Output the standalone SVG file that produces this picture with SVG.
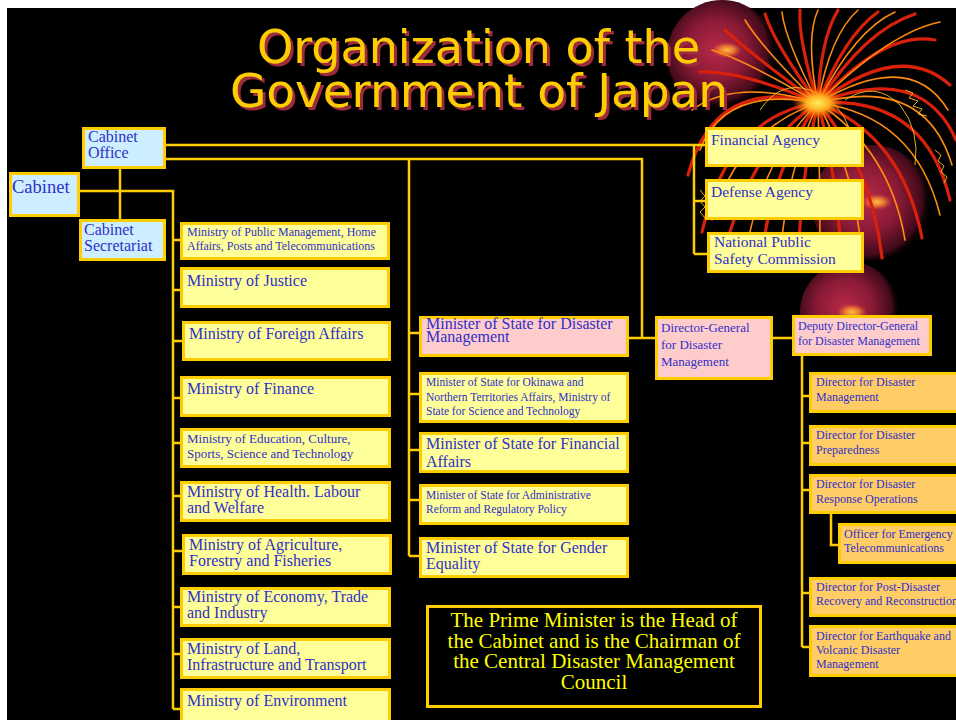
<svg xmlns="http://www.w3.org/2000/svg" width="956" height="720" viewBox="0 0 956 720">
  <defs>
    <style>
      .box { stroke: #FFCC00; stroke-width: 3; }
      .blue { fill: #CCEEFF; }
      .yel { fill: #FFFF99; }
      .pink { fill: #FFCCCC; }
      .org { fill: #FFCC66; }
      .t { font-family: "Liberation Serif", "Times New Roman", serif; fill: #3030C8; }
      .link { fill: none; stroke: #FFCC00; stroke-width: 2.5; }
      .title { font-family: "DejaVu Sans", "Liberation Sans", Arial, sans-serif; font-size: 46px; fill: #FFCC00; text-anchor: middle; }
      .note { font-family: "Liberation Serif", "Times New Roman", serif; font-size: 21px; fill: #FFFF00; text-anchor: middle; }
      .rayR { fill: none; stroke: #D8200A; stroke-width: 3.2; stroke-linecap: round; }
      .rayO { fill: none; stroke: #FF8A10; stroke-width: 1.6; stroke-linecap: round; }
      .rayY { fill: none; stroke: #FFC020; stroke-width: 0.9; }
    </style>
    <filter id="drop" x="-5%" y="-20%" width="110%" height="150%">
      <feOffset in="SourceAlpha" dx="3" dy="3" result="off"/>
      <feFlood flood-color="#9E2A3A"/>
      <feComposite in2="off" operator="in" result="shade"/>
      <feMerge>
        <feMergeNode in="shade"/>
        <feMergeNode in="SourceGraphic"/>
      </feMerge>
    </filter>
    <radialGradient id="orb" cx="0.45" cy="0.45" r="0.55">
      <stop offset="0" stop-color="#B82A48"/>
      <stop offset="0.5" stop-color="#8A1A36"/>
      <stop offset="0.85" stop-color="#420A1A"/>
      <stop offset="1" stop-color="#000000" stop-opacity="0"/>
    </radialGradient>
    <radialGradient id="spark" cx="0.5" cy="0.5" r="0.5">
      <stop offset="0" stop-color="#FFC040"/>
      <stop offset="0.5" stop-color="#FF9A30" stop-opacity="0.7"/>
      <stop offset="1" stop-color="#FF6020" stop-opacity="0"/>
    </radialGradient>
    <radialGradient id="core" cx="0.5" cy="0.5" r="0.5">
      <stop offset="0" stop-color="#FFF060"/>
      <stop offset="0.45" stop-color="#FFB020"/>
      <stop offset="1" stop-color="#FF5000" stop-opacity="0"/>
    </radialGradient>
  </defs>

  <!-- page -->
  <rect x="0" y="0" width="956" height="720" fill="#FFFFFF"/>
  <rect x="7" y="8" width="949" height="712" fill="#000000"/>

  <!-- firework decoration -->
  <g id="fireworks">
    <circle cx="722" cy="55" r="55" fill="url(#orb)"/>
    <circle cx="872" cy="205" r="60" fill="url(#orb)"/>
    <circle cx="850" cy="312" r="50" fill="url(#orb)"/>
    <ellipse cx="727" cy="50" rx="15" ry="8" fill="url(#spark)"/>
    <ellipse cx="877" cy="202" rx="15" ry="8" fill="url(#spark)"/>
    <ellipse cx="852" cy="312" rx="15" ry="8" fill="url(#spark)"/>
    <g>
      <path class="rayR" d="M818,103 Q715,75 688,175"/>
      <path class="rayR" d="M818,103 Q728,115 702,232"/>
      <path class="rayR" d="M818,103 Q748,148 722,262"/>
      <path class="rayR" d="M818,103 Q770,170 760,268"/>
      <path class="rayR" d="M818,103 Q800,180 798,270"/>
      <path class="rayR" d="M818,103 Q838,180 842,268"/>
      <path class="rayR" d="M818,103 Q872,168 882,258"/>
      <path class="rayR" d="M818,103 Q902,135 922,238"/>
      <path class="rayR" d="M818,103 Q925,95 950,200"/>
      <path class="rayR" d="M818,103 Q922,62 956,140"/>
      <path class="rayR" d="M818,103 Q900,40 950,85"/>
      <path class="rayR" d="M818,103 Q885,30 935,40"/>
      <path class="rayR" d="M818,103 Q865,30 915,14"/>
      <path class="rayR" d="M818,103 Q845,35 878,12"/>
      <path class="rayR" d="M818,103 Q820,40 838,10"/>
      <path class="rayR" d="M818,103 Q798,40 800,10"/>
      <path class="rayR" d="M818,103 Q775,45 765,14"/>
      <path class="rayR" d="M818,103 Q752,55 725,30"/>
      <path class="rayR" d="M818,103 Q740,70 700,72"/>
      <path class="rayO" d="M818,103 Q725,85 700,150"/>
      <path class="rayO" d="M818,103 Q740,128 712,220"/>
      <path class="rayO" d="M818,103 Q760,160 745,258"/>
      <path class="rayO" d="M818,103 Q785,175 780,262"/>
      <path class="rayO" d="M818,103 Q820,178 820,262"/>
      <path class="rayO" d="M818,103 Q855,172 862,255"/>
      <path class="rayO" d="M818,103 Q890,150 905,240"/>
      <path class="rayO" d="M818,103 Q915,115 940,215"/>
      <path class="rayO" d="M818,103 Q925,75 952,165"/>
      <path class="rayO" d="M818,103 Q910,48 948,110"/>
      <path class="rayO" d="M818,103 Q890,32 940,22"/>
      <path class="rayO" d="M818,103 Q855,30 895,12"/>
      <path class="rayO" d="M818,103 Q830,35 858,10"/>
      <path class="rayO" d="M818,103 Q805,38 818,10"/>
      <path class="rayO" d="M818,103 Q785,40 782,12"/>
      <path class="rayO" d="M818,103 Q762,48 745,20"/>
      <path class="rayO" d="M818,103 Q745,60 712,50"/>
      <path class="rayO" d="M818,103 Q735,78 692,110"/>
      <path class="rayY" d="M905,90 l8,3 l-4,5 l9,3 l-5,5 l9,3 l-4,5 l9,2"/>
      <path class="rayY" d="M700,190 l5,6 l-5,5 l5,6 l-5,5 l5,6"/>
      <path class="rayY" d="M935,150 l6,5 l-3,6 l6,5 l-3,6 l6,5 l-3,6"/>
      <path class="rayY" d="M760,110 q20,-30 50,-20 q30,10 40,40"/>
      <path class="rayY" d="M845,100 q30,-20 55,5 q20,25 15,60"/>
    </g>
    <ellipse cx="818" cy="103" rx="26" ry="16" fill="url(#core)"/>
  </g>

  <!-- heading -->
  <g id="heading" class="title" filter="url(#drop)">
    <text x="478.5" y="63" textLength="443" lengthAdjust="spacingAndGlyphs">Organization of the</text>
    <text x="479" y="107" textLength="498" lengthAdjust="spacingAndGlyphs">Government of Japan</text>
  </g>

  <!-- connectors -->
  <g id="connectors" class="link">
    <path d="M120,169 V220"/>
    <path d="M80,191 H173 V709"/>
    <path d="M173,240 H181 M173,290 H181 M173,341 H182 M173,398 H181 M173,443 H181 M173,496 H181 M173,551 H183 M173,607 H181 M173,654 H181 M173,709 H181"/>
    <path d="M166,145 H706"/>
    <path d="M694,145 V254 M694,201 H706 M694,254 H708"/>
    <path d="M166,159 H642 V338"/>
    <path d="M409,159 V556"/>
    <path d="M409,333 H420 M409,394 H420 M409,450 H420 M409,500 H420 M409,556 H420"/>
    <path d="M629,338 H656"/>
    <path d="M773,338 H793"/>
    <path d="M802,356 V647"/>
    <path d="M802,396 H810 M802,443 H810 M802,490 H810 M802,593 H810 M802,647 H810"/>
    <path d="M831,514 V545 H839"/>
  </g>

  <!-- cabinet level -->
  <g id="cabinet-office">
    <rect class="box blue" x="83.5" y="128.5" width="81" height="39"/>
    <text class="t" font-size="16" x="88" y="142">Cabinet</text>
    <text class="t" font-size="16" x="88" y="158">Office</text>
  </g>
  <g id="cabinet">
    <rect class="box blue" x="10.5" y="173.5" width="68" height="42"/>
    <text class="t" font-size="18.5" x="12" y="193">Cabinet</text>
  </g>
  <g id="cabinet-secretariat">
    <rect class="box blue" x="80.5" y="220.5" width="84" height="39"/>
    <text class="t" font-size="16" x="84" y="235">Cabinet</text>
    <text class="t" font-size="16" x="84" y="251">Secretariat</text>
  </g>

  <!-- ministries -->
  <g id="min-public-management">
    <rect class="box yel" x="181.5" y="223.5" width="207" height="35"/>
    <text class="t" font-size="12" x="187" y="236">Ministry of Public Management, Home</text>
    <text class="t" font-size="12" x="187" y="250">Affairs, Posts and Telecommunications</text>
  </g>
  <g id="min-justice">
    <rect class="box yel" x="181.5" y="268.5" width="207" height="38"/>
    <text class="t" font-size="16" x="187" y="286">Ministry of Justice</text>
  </g>
  <g id="min-foreign-affairs">
    <rect class="box yel" x="183.5" y="322.5" width="206" height="37"/>
    <text class="t" font-size="16" x="189" y="339">Ministry of Foreign Affairs</text>
  </g>
  <g id="min-finance">
    <rect class="box yel" x="181.5" y="377.5" width="208" height="38"/>
    <text class="t" font-size="16" x="187" y="394">Ministry of Finance</text>
  </g>
  <g id="min-education">
    <rect class="box yel" x="181.5" y="429.5" width="208" height="37"/>
    <text class="t" font-size="13" x="187" y="443">Ministry of Education, Culture,</text>
    <text class="t" font-size="13" x="187" y="458">Sports, Science and Technology</text>
  </g>
  <g id="min-health">
    <rect class="box yel" x="181.5" y="482.5" width="208" height="38"/>
    <text class="t" font-size="16" x="187" y="497">Ministry of Health. Labour</text>
    <text class="t" font-size="16" x="187" y="513">and Welfare</text>
  </g>
  <g id="min-agriculture">
    <rect class="box yel" x="183.5" y="535.5" width="207" height="38"/>
    <text class="t" font-size="16" x="189" y="550">Ministry of Agriculture,</text>
    <text class="t" font-size="16" x="189" y="566">Forestry and Fisheries</text>
  </g>
  <g id="min-economy">
    <rect class="box yel" x="181.5" y="588.5" width="208" height="37"/>
    <text class="t" font-size="16" x="187" y="602">Ministry of Economy, Trade</text>
    <text class="t" font-size="16" x="187" y="618">and Industry</text>
  </g>
  <g id="min-land">
    <rect class="box yel" x="181.5" y="639.5" width="208" height="38"/>
    <text class="t" font-size="16" x="187" y="654">Ministry of Land,</text>
    <text class="t" font-size="16" x="187" y="670">Infrastructure and Transport</text>
  </g>
  <g id="min-environment">
    <rect class="box yel" x="181.5" y="689.5" width="208" height="40"/>
    <text class="t" font-size="16" x="187" y="706">Ministry of Environment</text>
  </g>

  <!-- ministers of state -->
  <g id="mos-disaster">
    <rect class="box pink" x="420.5" y="317.5" width="207" height="38"/>
    <text class="t" font-size="16" x="426" y="329">Minister of State for Disaster</text>
    <text class="t" font-size="16" x="426" y="342">Management</text>
  </g>
  <g id="mos-okinawa">
    <rect class="box yel" x="420.5" y="373.5" width="207" height="48"/>
    <text class="t" font-size="11.5" x="426" y="386">Minister of State for Okinawa and</text>
    <text class="t" font-size="11.5" x="426" y="401">Northern Territories Affairs, Ministry of</text>
    <text class="t" font-size="11.5" x="426" y="415">State for Science and Technology</text>
  </g>
  <g id="mos-financial">
    <rect class="box yel" x="420.5" y="433.5" width="207" height="38"/>
    <text class="t" font-size="16" x="426" y="449">Minister of State for Financial</text>
    <text class="t" font-size="16" x="426" y="467">Affairs</text>
  </g>
  <g id="mos-admin-reform">
    <rect class="box yel" x="420.5" y="485.5" width="207" height="38"/>
    <text class="t" font-size="11.5" x="426" y="499">Minister of State for Administrative</text>
    <text class="t" font-size="11.5" x="426" y="513">Reform and Regulatory Policy</text>
  </g>
  <g id="mos-gender">
    <rect class="box yel" x="420.5" y="538.5" width="207" height="38"/>
    <text class="t" font-size="16" x="426" y="553">Minister of State for Gender</text>
    <text class="t" font-size="16" x="426" y="569">Equality</text>
  </g>

  <!-- agencies -->
  <g id="financial-agency">
    <rect class="box yel" x="706.5" y="128.5" width="156" height="37"/>
    <text class="t" font-size="15.5" x="711" y="145">Financial Agency</text>
  </g>
  <g id="defense-agency">
    <rect class="box yel" x="706.5" y="180.5" width="156" height="38"/>
    <text class="t" font-size="15.5" x="711" y="197">Defense Agency</text>
  </g>
  <g id="public-safety">
    <rect class="box yel" x="708.5" y="233.5" width="154" height="38"/>
    <text class="t" font-size="15.5" x="714" y="247">National Public</text>
    <text class="t" font-size="15.5" x="714" y="264">Safety Commission</text>
  </g>

  <!-- disaster management staff -->
  <g id="director-general">
    <rect class="box pink" x="656.5" y="317.5" width="115" height="61"/>
    <text class="t" font-size="13" x="661" y="332">Director-General</text>
    <text class="t" font-size="13" x="661" y="349">for Disaster</text>
    <text class="t" font-size="13" x="661" y="366">Management</text>
  </g>
  <g id="deputy-director-general">
    <rect class="box pink" x="793.5" y="316.5" width="137" height="38"/>
    <text class="t" font-size="12" x="798" y="330">Deputy Director-General</text>
    <text class="t" font-size="12" x="798" y="345">for Disaster Management</text>
  </g>
  <g id="dir-management">
    <rect class="box org" x="810.5" y="373.5" width="160" height="38"/>
    <text class="t" font-size="12" x="816" y="386">Director for Disaster</text>
    <text class="t" font-size="12" x="816" y="401">Management</text>
  </g>
  <g id="dir-preparedness">
    <rect class="box org" x="810.5" y="426.5" width="160" height="38"/>
    <text class="t" font-size="12" x="816" y="439">Director for Disaster</text>
    <text class="t" font-size="12" x="816" y="454">Preparedness</text>
  </g>
  <g id="dir-response">
    <rect class="box org" x="810.5" y="475.5" width="160" height="37"/>
    <text class="t" font-size="12" x="816" y="488">Director for Disaster</text>
    <text class="t" font-size="12" x="816" y="503">Response Operations</text>
  </g>
  <g id="officer-telecom">
    <rect class="box org" x="839.5" y="524.5" width="130" height="38"/>
    <text class="t" font-size="12" x="844" y="538">Officer for Emergency</text>
    <text class="t" font-size="12" x="844" y="552">Telecommunications</text>
  </g>
  <g id="dir-recovery">
    <rect class="box org" x="810.5" y="578.5" width="160" height="37"/>
    <text class="t" font-size="12" x="816" y="591">Director for Post-Disaster</text>
    <text class="t" font-size="12" x="816" y="605">Recovery and Reconstruction</text>
  </g>
  <g id="dir-earthquake">
    <rect class="box org" x="810.5" y="626.5" width="160" height="49"/>
    <text class="t" font-size="12" x="816" y="640">Director for Earthquake and</text>
    <text class="t" font-size="12" x="816" y="654">Volcanic Disaster</text>
    <text class="t" font-size="12" x="816" y="668">Management</text>
  </g>

  <!-- explanatory note -->
  <g id="note">
    <rect x="427.5" y="606.5" width="333" height="100" fill="#000000" stroke="#FFCC00" stroke-width="3"/>
    <text class="note" x="594" y="627">The Prime Minister is the Head of</text>
    <text class="note" x="594" y="648">the Cabinet and is the Chairman of</text>
    <text class="note" x="594" y="668">the Central Disaster Management</text>
    <text class="note" x="594" y="689">Council</text>
  </g>
</svg>
